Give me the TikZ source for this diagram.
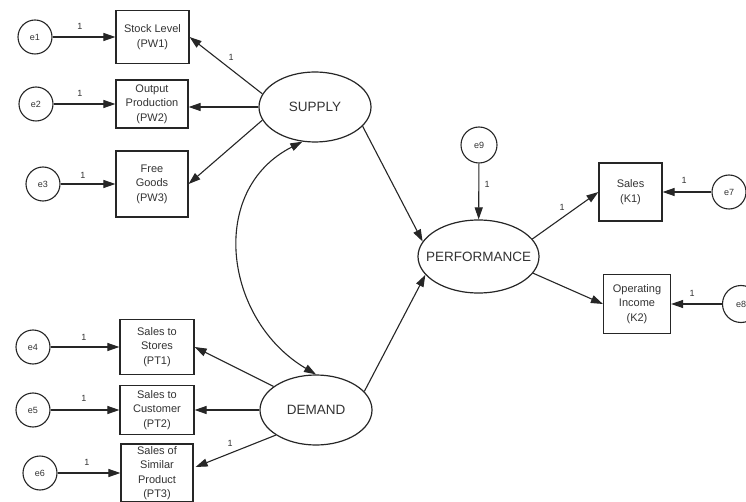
\documentclass[tikz,border=0pt]{standalone}
\usepackage{fontspec}
\setmainfont{Liberation Sans}
\usetikzlibrary{arrows.meta,shapes.geometric,calc}
\begin{document}
\begin{tikzpicture}[x=1pt,y=-1pt,
 obs/.style={draw=black!85,line width=1.2pt,rectangle,inner sep=0pt,align=center,text=black!80,font=\fontsize{11}{14.5}\selectfont},
 err/.style={draw=black!85,line width=1.1pt,circle,inner sep=0pt,minimum size=34pt,text=black!80,font=\fontsize{9}{10}\selectfont},
 lat/.style={draw=black!85,line width=1.2pt,ellipse,inner sep=0pt,text=black!80,font=\fontsize{13.5}{15}\selectfont},
 arr/.style={draw=black!85,line width=1.1pt,-{Triangle[length=12pt,width=8pt]}},
 dblarr/.style={draw=black!85,line width=1.1pt,{Triangle[length=12pt,width=8pt]}-{Triangle[length=12pt,width=8pt]}},
 one/.style={text=black!80,font=\fontsize{9}{10}\selectfont}
]
\useasboundingbox (0,0) rectangle (746,502);
\fill[white] (0,0) rectangle (746,502);

% supply indicators
\node[err] (e1) at (35,37) {e1};
\node[obs,minimum width=73pt,minimum height=53pt] (pw1) at (152.5,37) {Stock Level\\(PW1)};
\node[err] (e2) at (36,104) {e2};
\node[obs,minimum width=72pt,minimum height=48pt] (pw2) at (152,104) {Output\\Production\\(PW2)};
\node[err] (e3) at (43,184) {e3};
\node[obs,minimum width=72pt,minimum height=66pt] (pw3) at (152,184) {Free\\Goods\\(PW3)};

% demand indicators
\node[err] (e4) at (33,347) {e4};
\node[obs,minimum width=74pt,minimum height=55pt] (pt1) at (157,347) {Sales to\\Stores\\(PT1)};
\node[err] (e5) at (33,410) {e5};
\node[obs,minimum width=74pt,minimum height=49pt] (pt2) at (157,410) {Sales to\\Customer\\(PT2)};
\node[err] (e6) at (40,473) {e6};
\node[obs,minimum width=72pt,minimum height=58pt] (pt3) at (157,473) {Sales of\\Similar\\Product\\(PT3)};

% latents
\node[lat,minimum width=112pt,minimum height=70pt] (supply) at (315,107) {SUPPLY};
\node[lat,minimum width=112pt,minimum height=70pt] (demand) at (316,410) {DEMAND};
\node[lat,minimum width=121pt,minimum height=73pt,inner xsep=-14pt] (perf) at (478.5,256.5) {PERFORMANCE};
\node[err,minimum size=36pt] (e9) at (479,145) {e9};

% performance indicators
\node[obs,minimum width=63pt,minimum height=58pt] (k1) at (630.5,192) {Sales\\(K1)};
\node[err] (e7) at (729,192) {e7};
\node[obs,minimum width=67pt,minimum height=59pt] (k2) at (637,304) {Operating\\Income\\(K2)};
\node[err,minimum size=37pt] (e8) at (741,304) {e8};

% arrows
\draw[arr] (e1) -- (pw1);
\draw[arr] (e2) -- (pw2);
\draw[arr] (e3) -- (pw3);
\draw[arr] (e4) -- (pt1);
\draw[arr] (e5) -- (pt2);
\draw[arr] (e6) -- (pt3);
\draw[arr] (supply.166) -- (pw1.east);
\draw[arr] (supply.west) -- (supply.west -| pw2.east);
\draw[arr] (supply.194) -- (pw3.east);
\draw[arr] (demand.151) -- (pt1.east);
\draw[arr] (demand.west) -- (demand.west -| pt2.east);
\draw[arr] (demand.212) -- ($(pt3.east)+(2,-6)$);
\draw[dblarr] (supply.250) .. controls (207,190) and (224,320) .. (demand.90);
\draw[arr] (supply.-22) -- (perf.165);
\draw[arr] (demand.21) -- (perf.199);
\draw[arr] (e9) -- (perf);
\draw[arr] (perf.18) -- (k1.west);
\draw[arr] (perf.-17) -- (k2.west);
\draw[arr] (e7) -- (k1);
\draw[arr] (e8) -- (k2);

% labels
\node[one] (l1) at (80,26) {1};
\node[one] (l2) at (80,93) {1};
\node[one] (l3) at (83,175) {1};
\node[one] (l4) at (84,337) {1};
\node[one] (l5) at (84,398) {1};
\node[one] (l6) at (87,462) {1};
\node[one] (l7) at (231,57) {1};
\node[one] (l8) at (230,443) {1};
\node[one] (l9) at (487,184) {1};
\node[one] (l10) at (562,207) {1};
\node[one] (l11) at (684,180) {1};
\node[one] (l12) at (692,293) {1};
\end{tikzpicture}
\end{document}
